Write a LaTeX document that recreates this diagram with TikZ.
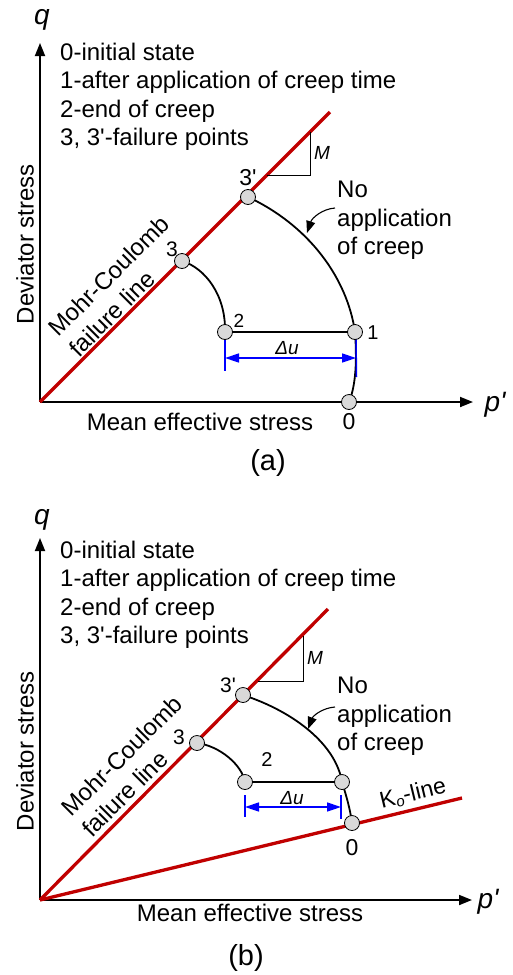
\documentclass[tikz,border=0pt]{standalone}
\usepackage{fontspec}
\setmainfont{Liberation Sans}
\usetikzlibrary{arrows.meta}
\definecolor{mcred}{HTML}{C00000}
\definecolor{ptgray}{HTML}{D9D9D9}
\definecolor{dimblue}{HTML}{0000FF}
\newcommand{\qs}{\textquotesingle}
\newcommand{\fs}[1]{\fontsize{#1}{#1}\selectfont}
\pgfdeclarelayer{bg}
\pgfsetlayers{bg,main}
\begin{document}
\begin{tikzpicture}[x=1pt,y=-1pt,
  pt/.style={circle,draw=black,line width=0.8pt,fill=ptgray,minimum size=15pt,inner sep=0pt},
  legend/.style={anchor=base west,font=\fs{24},inner sep=0pt},
  txt/.style={inner sep=0pt,font=\fs{24}},
  mctext/.style={inner sep=0pt,rotate=45,align=left,font=\fontsize{24}{29}\selectfont},
  axisline/.style={line width=1.8pt,-{Triangle[length=13pt,width=10pt]}},
  mcline/.style={draw=mcred,line width=3.3pt},
  stresspath/.style={line width=1.8pt},
  slope/.style={line width=0.9pt},
  leader/.style={line width=1.1pt,-{Triangle[length=12pt,width=9pt]}},
  dimtick/.style={draw=dimblue,line width=1.5pt},
  dimarrow/.style={draw=dimblue,line width=1.5pt,{Triangle[length=14pt,width=9pt]}-{Triangle[length=14pt,width=9pt]},fill=dimblue},
]
\useasboundingbox (0,0) rectangle (513,975);

% ================= Panel (a) =================
\coordinate (aO) at (40,402);
\coordinate (aY) at (40,43);
\coordinate (aX) at (473,402);
\coordinate (aMC) at (330,112);
\coordinate (aLS) at (335,208);
\coordinate (aLE) at (307,233);
\node[pt] (a3p) at (248,197) {};
\node[pt] (a3) at (182,261) {};
\node[pt] (a2) at (225,332) {};
\node[pt] (a1) at (355,332) {};
\node[pt] (a0) at (349,402) {};

\begin{pgfonlayer}{bg}
\draw[axisline] (aO) -- (aY);
\draw[axisline] (aO) -- (aX);
\draw[mcline] (aO) -- (aMC);
\draw[slope] (267,175) -- (310,175) -- (310,132);
\draw[stresspath] (a3p.center) .. controls (308,225) and (347,277) .. (a1.center)
  .. controls (357,360) and (356,385) .. (a0.center);
\draw[stresspath] (a3.center) .. controls (205,268) and (226,295) .. (a2.center);
\draw[stresspath] (a2.center) -- (a1.center);
\draw[dimtick] (a2.center) -- (225,371);
\draw[dimtick] (356,339) -- (356.5,377);
\draw[dimarrow] (225,358) -- (356,358);
\draw[leader] (aLS) .. controls (322,209) and (312,218) .. (aLE);
\end{pgfonlayer}

\node[txt,font=\fs{28}\itshape] (aq) at (42,20) {q};
\node[txt,font=\fs{28}\itshape] (ap) at (495,405) {p\qs};
\node[legend] (aL0) at (60,60) {0-initial state};
\node[legend] (aL1) at (60,88.5) {1-after application of creep time};
\node[legend] (aL2) at (60,117) {2-end of creep};
\node[legend] (aL3) at (60,145.5) {3, 3\qs-failure points};
\node[legend] (aN1) at (337,197) {No};
\node[legend] (aN2) at (337,226) {application};
\node[legend] (aN3) at (337,254.5) {of creep};
\node[txt,font=\fs{19}\itshape] (aM) at (322,153) {M};
\node[txt,font=\fs{23}] (a3pl) at (248,178) {3\qs};
\node[txt,font=\fs{21}] (a3l) at (172,249) {3};
\node[txt,font=\fs{19}] (a2l) at (239,321) {2};
\node[txt,font=\fs{20}] (a1l) at (373,333) {1};
\node[txt,font=\fs{23}] (a0l) at (349,422) {0};
\node[txt,font=\fs{19}\itshape] (adu) at (287,348) {Δu};
\node[txt] (amean) at (200,422) {Mean effective stress};
\node[txt,rotate=90] (adev) at (25,244) {Deviator stress};
\node[mctext] (amc) at (119,286) {Mohr-Coulomb\\failure line};
\node[txt,font=\fs{29}] (acap) at (268,463) {(a)};

% ================= Panel (b) =================
\coordinate (bO) at (40,900);
\coordinate (bY) at (40,538);
\coordinate (bX) at (472,900);
\coordinate (bMC) at (328,609);
\coordinate (bKo) at (462,798);
\coordinate (bLS) at (335,707);
\coordinate (bLE) at (308,729);
\node[pt] (b3p) at (243,695) {};
\node[pt] (b3) at (197,743) {};
\node[pt] (b2) at (245,782) {};
\node[pt] (b1) at (342,782) {};
\node[pt] (b0) at (352,823) {};

\begin{pgfonlayer}{bg}
\draw[axisline] (bO) -- (bY);
\draw[axisline] (bO) -- (bX);
\draw[mcline] (bO) -- (bMC);
\draw[mcline] (bO) -- (bKo);
\draw[slope] (258,681) -- (303,681) -- (303,636);
\draw[stresspath] (b3p.center) .. controls (295,712) and (336,745) .. (b1.center)
  .. controls (346,795) and (350,808) .. (b0.center);
\draw[stresspath] (b3.center) .. controls (220,746) and (242,765) .. (b2.center);
\draw[stresspath] (b2.center) -- (b1.center);
\draw[dimtick] (245,795) -- (245,817);
\draw[dimtick] (341,795) -- (341,819);
\draw[dimarrow] (245,807) -- (341,807);
\draw[leader] (bLS) .. controls (322,708) and (313,716) .. (bLE);
\end{pgfonlayer}

\node[txt,font=\fs{28}\itshape] (bq) at (42,520) {q};
\node[txt,font=\fs{28}\itshape] (bp) at (488,902) {p\qs};
\node[legend] (bL0) at (60,558) {0-initial state};
\node[legend] (bL1) at (60,586.5) {1-after application of creep time};
\node[legend] (bL2) at (60,615) {2-end of creep};
\node[legend] (bL3) at (60,643.5) {3, 3\qs-failure points};
\node[legend] (bN1) at (337,693) {No};
\node[legend] (bN2) at (337,722) {application};
\node[legend] (bN3) at (337,750) {of creep};
\node[txt,font=\fs{19}\itshape] (bM) at (315,658) {M};
\node[txt,font=\fs{21}] (b3pl) at (228,685) {3\qs};
\node[txt,font=\fs{21}] (b3l) at (179,737) {3};
\node[txt,font=\fs{20}] (b2l) at (267,760) {2};
\node[txt,font=\fs{23}] (b0l) at (352,848) {0};
\node[txt,font=\fs{19}\itshape] (bdu) at (292,798) {Δu};
\node[txt] (bmean) at (250,913) {Mean effective stress};
\node[txt,rotate=90] (bdev) at (25,751) {Deviator stress};
\node[mctext] (bmc) at (132,766) {Mohr-Coulomb\\failure line};
\node[txt,rotate=13.6,font=\fs{23}] (bko) at (413,794) {K\raisebox{-0.25ex}{\fs{15}\itshape o}-line};
\node[txt,font=\fs{29}] (bcap) at (246,958) {(b)};
\end{tikzpicture}
\end{document}
